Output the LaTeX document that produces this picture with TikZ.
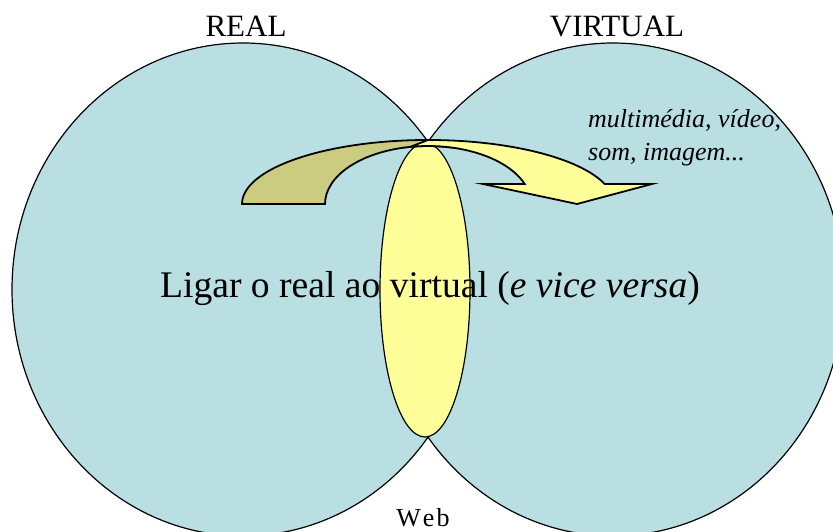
\documentclass[tikz,border=0pt]{standalone}
\usepackage{fontspec}
\setmainfont{Liberation Serif}
\usetikzlibrary{shapes.geometric,positioning}
\definecolor{roundblue}{HTML}{B9DFE3}
\definecolor{lensyellow}{HTML}{FFFF99}
\definecolor{tailolive}{HTML}{CCCC80}

\begin{document}
\begin{tikzpicture}
        [x=1pt,y=1pt,
        world/.style={shape=ellipse,draw,line width=1.2pt,fill=roundblue,
          inner sep=0pt,minimum width=462pt,minimum height=493pt},
        lens/.style={shape=ellipse,draw,line width=1.2pt,fill=lensyellow,
          inner sep=0pt,minimum width=90pt,minimum height=294pt},
        arrowband/.style={draw,line width=1.8pt,line join=miter},
        lbl/.style={inner sep=0pt,font=\fontsize{31}{36}\selectfont}]
        \useasboundingbox (0,0) rectangle (833,532);
        \clip (0,0) rectangle (833,532);
		\node[world] (real) at (243,242.5) {};
		\node[world] (virtual) at (613,242.5) {};
		\node[lens] (web) at (425,242) {};
		% curved arrow, tail then head
		\draw[arrowband,fill=tailolive] (242,328) arc[start angle=180,end angle=90,x radius=186,y radius=64]
			-- (445.9,385.1) arc[start angle=80,end angle=180,x radius=103,y radius=58] -- cycle;
		\draw[arrowband,fill=lensyellow] (428,392) arc[start angle=90,end angle=18.2,x radius=186,y radius=64]
			-- (652,348) -- (577,328) -- (483,348) -- (524.7,348)
			arc[start angle=20.2,end angle=100,x radius=103,y radius=58] -- cycle;
		\node[lbl,anchor=base] (reallbl) at ([xshift=3pt,yshift=6pt]real.north) {REAL};
		\node[lbl,anchor=base] (virtuallbl) at ([xshift=4pt,yshift=6pt]virtual.north) {VIRTUAL};
		\node[inner sep=0pt,anchor=base,font=\fontsize{37.6}{44}\selectfont] (link)
			at (430,234) {Ligar o real ao virtual (\textit{e vice versa})};
		\node[inner sep=0pt,anchor=base west,font=\fontsize{26}{32}\itshape] (media1)
			at (588,404) {multimédia, vídeo,};
		\node[inner sep=0pt,anchor=base west,font=\fontsize{26}{32}\itshape] (media2)
			at ([yshift=-33pt]media1.base west) {som, imagem...};
		\node[inner sep=0pt,anchor=base,font=\fontsize{26}{32}\selectfont] (weblbl)
			at (423,5) {W\kern2pt e\kern2pt b};
	\end{tikzpicture}
\end{document}
